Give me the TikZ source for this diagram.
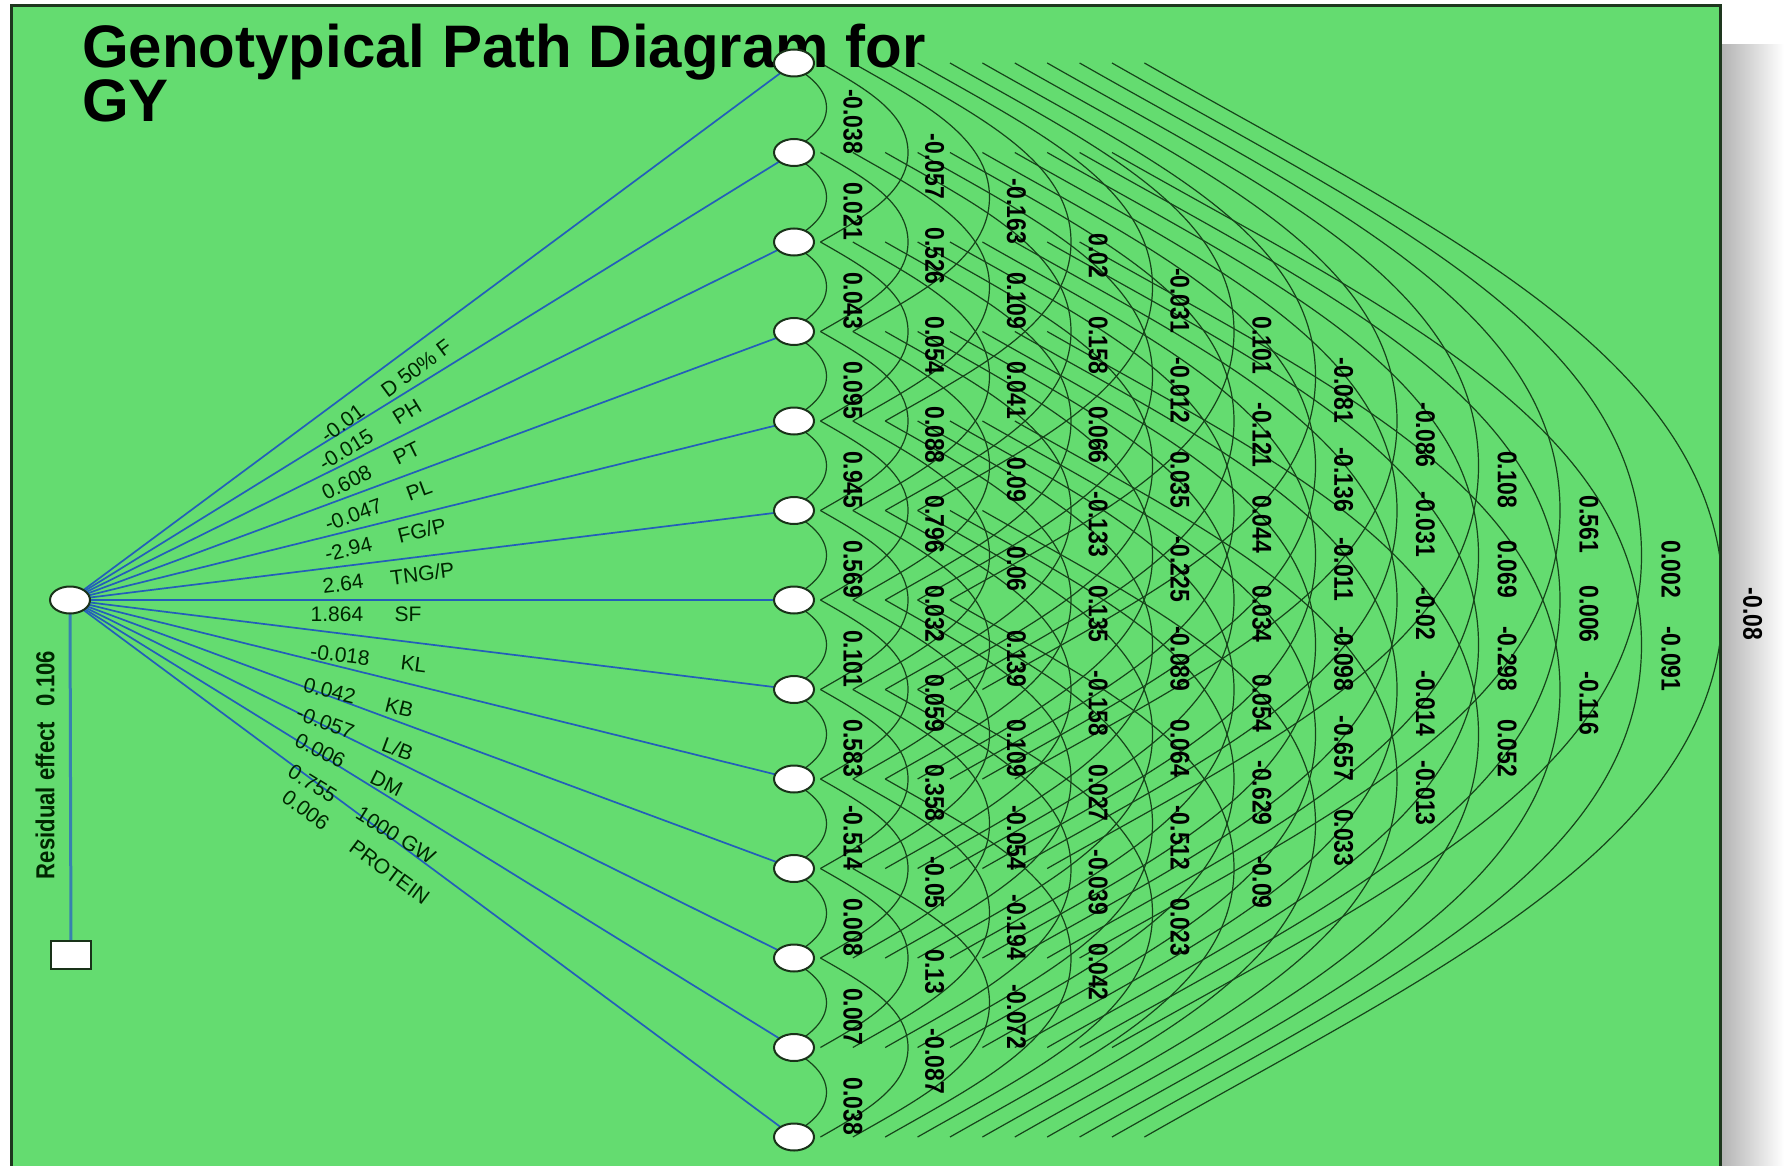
\documentclass[tikz,border=0pt]{standalone}
\usepackage{fontspec}
\setmainfont{Liberation Sans}
\newfontfamily\arclabfont[FakeStretch=0.85]{Liberation Sans Bold}
\usetikzlibrary{shapes.geometric,calc}
\definecolor{bggreen}{RGB}{100,220,112}
\definecolor{framecol}{RGB}{30,55,30}
\definecolor{arccol}{RGB}{22,68,26}
\definecolor{bluecol}{RGB}{35,95,185}
\definecolor{rescol}{RGB}{55,130,175}
\definecolor{nodeline}{RGB}{25,50,25}
\pgfdeclarelayer{back}
\pgfdeclarelayer{mid}
\pgfsetlayers{back,mid,main}
\begin{document}
\begin{tikzpicture}[x=1pt,y=-1pt,
  rnode/.style={ellipse,draw=nodeline,line width=2pt,fill=white,minimum width=40pt,minimum height=27pt,inner sep=0pt},
  rbox/.style={rectangle,draw=nodeline,line width=2pt,fill=white,minimum width=40pt,minimum height=28pt,inner sep=0pt},
  arcline/.style={draw=arccol,line width=1.2pt},
  blueline/.style={draw=bluecol,line width=1.7pt},
  resline/.style={draw=rescol,line width=3pt},
  arclab/.style={font=\fontsize{27}{27}\selectfont\arclabfont,text=black,inner sep=0pt,rotate=-90},
  leftlab/.style={font=\fontsize{21}{21}\selectfont,text=black!85!green,inner sep=2pt},
  reslab/.style={font=\fontsize{26}{26}\selectfont\arclabfont,text=black!85!green,inner sep=0pt,rotate=90},
  titlefont/.style={font=\fontsize{60}{60}\selectfont\bfseries,text=black,inner sep=0pt}]
\useasboundingbox (0,0) rectangle (1784,1166);
\begin{pgfonlayer}{back}
  \shade[left color=black!30,right color=white] (1721,45) rectangle (1784,1166);
  \fill[bggreen] (11,6) rectangle (1720,1170);
  \draw[framecol,line width=3pt] (11,1170) -- (11,6) -- (1720,6) -- (1720,1170);
\end{pgfonlayer}
% title
\node[titlefont,anchor=base west] (t1) at (82,68) {Genotypical Path Diagram for};
\node[titlefont,anchor=base west] (t2) at (82,122) {GY};
% right nodes
\foreach \k in {1,...,13} {
  \pgfmathsetmacro\yy{63+89.5*(\k-1)}
  \node[rnode] (n\k) at (794,\yy) {};
}
\node[rnode] (src) at (70,600) {};
\node[rbox] (res) at (71,955) {};
% arcs
\begin{pgfonlayer}{mid}
\begin{scope}
\clip (11,6) rectangle (1720,1170);
\foreach \i in {1,...,12} {
  \pgfmathtruncatemacro\js{\i+1}
  \foreach \j in {\js,...,13} {
    \pgfmathsetmacro\d{\j-\i}
    \pgfmathsetmacro\yi{63+89.5*(\i-1)}
    \pgfmathsetmacro\yj{63+89.5*(\j-1)}
    \pgfmathsetmacro\ym{(\yi+\yj)/2}
    \pgfmathsetmacro\H{44.75*\d}
    \pgfmathsetmacro\xs{788+32.4*(\d-1)}
    \pgfmathsetmacro\xa{745+81.5*\d}
    \pgfmathsetmacro\W{\xa-\xs}
    \pgfmathsetmacro\dx{\xs-794}
    \pgfmathsetmacro\cxa{\xs+0.5*\W}
    \pgfmathsetmacro\cya{\yi+0.5*\W*0.57}
    \pgfmathsetmacro\cyb{\yj-0.5*\W*0.57}
    \pgfmathsetmacro\ctop{\ym-0.45*\H}
    \pgfmathsetmacro\cbot{\ym+0.45*\H}
    \draw[arcline] ([xshift=\dx pt]n\i.center) .. controls (\cxa,\cya) and (\xa,\ctop) .. (\xa,\ym) .. controls (\xa,\cbot) and (\cxa,\cyb) .. ([xshift=\dx pt]n\j.center);
  }
}
\end{scope}
\foreach \k in {1,...,13} {
  \draw[blueline] (src.center) -- (n\k.center);
}
\draw[resline] (src.center) -- (res.center);
\end{pgfonlayer}
% left labels
\foreach \k/\p/\b/\txt in {
  1/0.42/10.6/{-0.01\hspace{1.3em}D 50\% F},
  2/0.402/7.5/{-0.015\hspace{1.3em}PH},
  3/0.405/7.8/{0.608\hspace{1.3em}PT},
  4/0.417/8.8/{-0.047\hspace{1.3em}PL},
  5/0.43/7.2/{-2.94\hspace{1.3em}FG/P},
  6/0.437/7.2/{2.64\hspace{1.3em}TNG/P},
  7/0.409/4.9/{1.864\hspace{1.5em}SF},
  8/0.416/11.8/{-0.018\hspace{1.5em}KL},
  9/0.407/16/{0.042\hspace{1.5em}KB},
  10/0.406/15.9/{-0.057\hspace{1.5em}L/B},
  11/0.40/14.5/{0.006\hspace{1.5em}DM},
  12/0.424/19/{0.755\hspace{1.3em}1000 GW},
  13/0.418/18.6/{0.006\hspace{1.5em}PROTEIN}} {
  \path (src.center) -- (n\k.center) node[leftlab,pos=\p,sloped,below=\b pt] (lab\k) {\txt};
}
\node[reslab] (reslabel) at (45,765) {Residual effect\hspace{0.6em}0.106};
% arc labels
\foreach \d/\vals in {
  1/{-0.038,0.021,0.043,0.095,0.945,0.569,0.101,0.583,-0.514,0.008,0.007,0.038},
  2/{-0.057,0.526,0.054,0.088,0.796,0.032,0.059,0.358,-0.05,0.13,-0.087},
  3/{-0.163,0.109,0.041,0.09,0.06,0.139,0.109,-0.054,-0.194,-0.072},
  4/{0.02,0.158,0.066,-0.133,0.135,-0.158,0.027,-0.039,0.042},
  5/{-0.031,-0.012,0.035,-0.225,-0.089,0.064,-0.512,0.023},
  6/{0.101,-0.121,0.044,0.034,0.054,-0.629,-0.09},
  7/{-0.081,-0.136,-0.011,-0.098,-0.657,0.033},
  8/{-0.086,-0.031,-0.02,-0.014,-0.013},
  9/{0.108,0.069,-0.298,0.052},
  10/{0.561,0.006,-0.116},
  11/{0.002,-0.091},
  12/{-0.08}} {
  \foreach \v [count=\i] in \vals {
    \pgfmathsetmacro\yl{63+89.5*(\i-1)+44.75*\d+14}
    \pgfmathsetmacro\xl{771+81.8*\d}
    \node[arclab] (a\d-\i) at (\xl,\yl) {\v};
  }
}
\end{tikzpicture}
\end{document}
